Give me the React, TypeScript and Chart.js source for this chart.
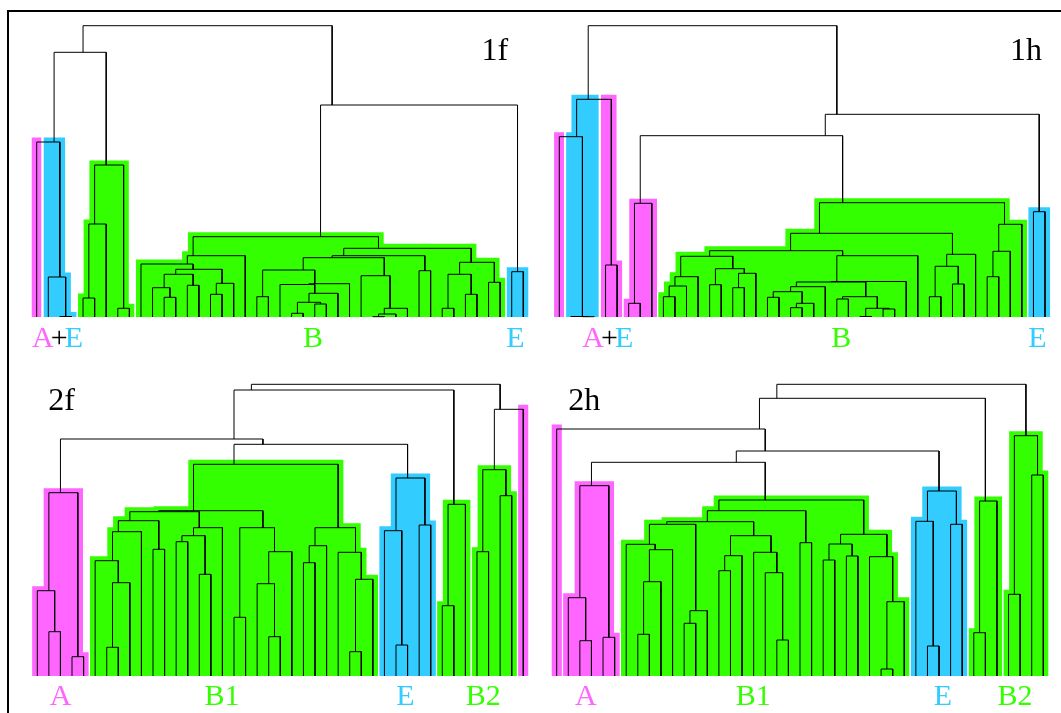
import React, { useEffect, useRef } from "react";
import { Chart, registerables } from "chart.js";

Chart.register(...registerables);

type Tree = string | [number, Tree, Tree];

// ---------- Panel 1f (merge heights; leaves are group codes) ----------
const tree1fAE: Tree = [175, "A", [40, "E", [0.5, "E", "E"]]];
const tree1fG: Tree = [152, [93, [19, "B", "B"], "B"], [8.7, "B", "B"]];
const tree1fB: Tree = [80.3,
  [61.3,
    [53, "B", [47.7,
      [42.7, [29.3, "B", [19.7, "B", "B"]], [31.7, "B", "B"]],
      [33.7, [22.7, "B", "B"], "B"]]],
    "B"],
  [68.7,
    [61.3,
      [59.3,
        [47, [20.3, "B", "B"], [33.3, [32.5, "B", [23.7, [14.7, [3.7, "B", "B"], [13, "B", "B"]], "B"]], "B"]],
        [41.3, "B", [8.7, [3, [0.3, "B", "B"], "B"], "B"]]],
      [46.3, "B", "B"]],
    [54.7, [42.7, [8.7, "B", "B"], [22.7, "B", "B"]], [34.7, "B", "B"]]]];
const tree1fE: Tree = [45.3, "E", "E"];
const tree1f: Tree = [291.3, [264.7, tree1fAE, tree1fG], [212, tree1fB, tree1fE]];
const clusters1f: number[][] = [[0, 3], [4, 8], [9, 40], [41, 42]];

// ---------- Panel 1h ----------
const tree1hAE: Tree = [217.7, [180.3, "A", [0.5, "E", [0.3, "E", "E"]]], [52, "A", "A"]];
const tree1hA: Tree = [113.7, [13.7, "A", "A"], "A"];
const tree1hB: Tree = [114.3,
  [83.7,
    [66.3,
      [60.7,
        [40.3, [31, [20.3, "B", "B"], "B"], "B"],
        [48.3, [32.3, "B", "B"], [43.7, [29.3, "B", "B"], "B"]]],
      [61.3,
        [35.5,
          [35,
            [30.3, [25.3, [19.7, "B", "B"], [13.7, [9.3, "B", "B"], "B"]], "B"],
            [20.3, [18, "B", "B"], [8.7, [0.5, "B", "B"], [8, "B", "B"]]]],
          "B"],
        "B"]],
    [62.7, [50.7, [20.3, "B", "B"], [33, "B", "B"]], "B"]],
  [92.7, [65.7, [40.3, "B", "B"], "B"], "B"]];
const tree1hE: Tree = [105.3, "E", "E"];
const tree1h: Tree = [291.3, tree1hAE, [202.7, [181.3, tree1hA, tree1hB], tree1hE]];
const clusters1h: number[][] = [[0, 5], [6, 8], [9, 40], [41, 42]];

// ---------- Panel 2f ----------
const tree2fA: Tree = [183.3, [85.3, "A", [44.3, "A", "A"]], [19.3, "A", "A"]];
const tree2fB1: Tree = [211.7,
  [165.3,
    [164.3,
      [155.3, [144.3, [115.3, "B", [93.3, [28.7, "B", "B"], "B"]], "B"], [126.7, "B", "B"]],
      [148.3, [140.3, [134.3, "B", "B"], [101.7, "B", "B"]], "B"]],
    [148.3, [58.7, "B", "B"], [124.3, [92.3, "B", [39.3, "B", "B"]], "B"]]],
  [148.3, [130.3, [113.3, "B", "B"], "B"], [123.7, "B", [96.7, [24.3, "B", "B"], "B"]]]];
const tree2fE: Tree = [198, [145.3, "E", [31, "E", "E"]], [151, "E", "E"]];
const tree2fB2a: Tree = [171.7, [70.3, "B2", "B2"], "B2"];
const tree2fB2b: Tree = [206.3, [124.3, "B2", "B2"], [180.3, "B2", "B2"]];
const tree2f: Tree = [291.7,
  [286, [237, tree2fA, [231.7, tree2fB1, tree2fE]], tree2fB2a],
  [266.7, tree2fB2b, "A"]];
const clusters2f: number[][] = [[0, 4], [5, 29], [30, 34], [35, 37], [38, 41], [42, 42]];

// ---------- Panel 2h ----------
const tree2hA: Tree = [190.3, [78.3, "A", [35.3, "A", "A"]], [38.7, "A", "A"]];
const tree2hB1: Tree = [176,
  [165.3,
    [154.3,
      [151.7,
        [131.7, "B", [126.3, [94.3, [41.7, "B", "B"], "B"], "B"]],
        [65.3, [52.7, "B", "B"], "B"]],
      [140.3,
        [120.3, [105.3, "B", "B"], "B"],
        [123.7, "B", [103.3, "B", [36, "B", "B"]]]]],
    [133.3, "B", "B"]],
  [141.7,
    [132, [116, "B", "B"], [120, "B", "B"]],
    [119.3, "B", [74.3, [7, "B", "B"], "B"]]]];
const tree2hE: Tree = [185, [154.7, "E", [30, "E", "E"]], [151.7, "E", "E"]];
const tree2hB2a: Tree = [175, [43.3, "B2", "B2"], "B2"];
const tree2hB2b: Tree = [240.3, [81.7, "B2", "B2"], [201, "B2", "B2"]];
const tree2h: Tree = [291.7,
  [277.7, [247, "A", [225, [213.7, tree2hA, tree2hB1], tree2hE]], tree2hB2a],
  tree2hB2b];
const clusters2h: number[][] = [[0, 0], [1, 5], [6, 30], [31, 35], [36, 38], [39, 42]];

// ---------- styles ----------
const PINK = "#ff66ff";
const BLUE = "#33ccff";
const GREEN = "#33ff00";
const FILL: Record<string, string> = { A: PINK, E: BLUE, B: GREEN, B2: GREEN };
const PAD_X = 0.45;
const PAD_Y = 4.5;
const GAP = 0.17;

interface Box { left: number; top: number; width: number; height: number }
interface PanelSpec { tree: Tree; clusters: number[][]; leaf0: number; step: number; base: number; box: Box }

const panels: PanelSpec[] = [
  { tree: tree1f, clusters: clusters1f, leaf0: 36.7, step: 11.586, base: 317, box: { left: 12, top: 14, width: 526, height: 310 } },
  { tree: tree1h, clusters: clusters1h, leaf0: 559.3, step: 11.564, base: 317, box: { left: 540, top: 14, width: 520, height: 310 } },
  { tree: tree2f, clusters: clusters2f, leaf0: 37.3, step: 11.571, base: 676, box: { left: 12, top: 372, width: 526, height: 312 } },
  { tree: tree2h, clusters: clusters2h, leaf0: 556.7, step: 11.586, base: 676, box: { left: 540, top: 372, width: 520, height: 312 } },
];

interface Part { t: string; c: string }
interface Label { parts: Part[]; x: number; baseline: number; size: number; anchor: "center" | "left" }
const labels: Label[] = [
  { parts: [{ t: "A", c: PINK }, { t: "+", c: "#000" }, { t: "E", c: BLUE }], x: 56, baseline: 346.7, size: 30, anchor: "center" },
  { parts: [{ t: "B", c: GREEN }], x: 313, baseline: 346.7, size: 30, anchor: "center" },
  { parts: [{ t: "E", c: BLUE }], x: 515.5, baseline: 346.7, size: 30, anchor: "center" },
  { parts: [{ t: "1f", c: "#000" }], x: 481.5, baseline: 60, size: 32, anchor: "left" },
  { parts: [{ t: "A", c: PINK }, { t: "+", c: "#000" }, { t: "E", c: BLUE }], x: 606.3, baseline: 346.7, size: 30, anchor: "center" },
  { parts: [{ t: "B", c: GREEN }], x: 841.3, baseline: 346.7, size: 30, anchor: "center" },
  { parts: [{ t: "E", c: BLUE }], x: 1037.3, baseline: 346.7, size: 30, anchor: "center" },
  { parts: [{ t: "1h", c: "#000" }], x: 1010, baseline: 60, size: 32, anchor: "left" },
  { parts: [{ t: "2f", c: "#000" }], x: 48.3, baseline: 410, size: 32, anchor: "left" },
  { parts: [{ t: "A", c: PINK }], x: 60.5, baseline: 705, size: 30, anchor: "center" },
  { parts: [{ t: "B1", c: GREEN }], x: 222, baseline: 705, size: 30, anchor: "center" },
  { parts: [{ t: "E", c: BLUE }], x: 405.5, baseline: 705, size: 30, anchor: "center" },
  { parts: [{ t: "B2", c: GREEN }], x: 483.3, baseline: 705, size: 30, anchor: "center" },
  { parts: [{ t: "2h", c: "#000" }], x: 568.3, baseline: 410, size: 32, anchor: "left" },
  { parts: [{ t: "A", c: PINK }], x: 585.8, baseline: 705, size: 30, anchor: "center" },
  { parts: [{ t: "B1", c: GREEN }], x: 753.3, baseline: 705, size: 30, anchor: "center" },
  { parts: [{ t: "E", c: BLUE }], x: 942.8, baseline: 705, size: 30, anchor: "center" },
  { parts: [{ t: "B2", c: GREEN }], x: 1015, baseline: 705, size: 30, anchor: "center" },
];

type Pt = { x: number; y: number | null };
interface Node { x: number; h: number; lo: number; hi: number; sum: number; n: number; parentH: number }

function buildDatasets(tree: Tree, clusters: number[][]) {
  const groups: string[] = [];
  const leaves: Node[] = [];
  const nodes: { node: Node; a: Node; b: Node }[] = [];
  const walk = (t: Tree): Node => {
    if (typeof t === "string") {
      const i = groups.length;
      groups.push(t);
      const nd: Node = { x: i, h: 0, lo: i, hi: i, sum: i, n: 1, parentH: 0 };
      leaves.push(nd);
      return nd;
    }
    const a = walk(t[1]);
    const b = walk(t[2]);
    const nd: Node = { x: (a.sum + b.sum) / (a.n + b.n), h: t[0], lo: a.lo, hi: b.hi, sum: a.sum + b.sum, n: a.n + b.n, parentH: 0 };
    a.parentH = t[0];
    b.parentH = t[0];
    nodes.push({ node: nd, a, b });
    return nd;
  };
  walk(tree);

  const links: Pt[] = [];
  for (const { node, a, b } of nodes) {
    links.push({ x: a.x, y: a.h }, { x: a.x, y: node.h }, { x: b.x, y: node.h }, { x: b.x, y: b.h }, { x: b.x, y: null });
  }

  const fills: { color: string; pts: Pt[] }[] = [];
  for (const [lo, hi] of clusters) {
    const rects: [number, number, number][] = [];
    if (lo === hi) rects.push([lo - PAD_X, lo + PAD_X, leaves[lo].parentH + PAD_Y]);
    else for (const { node, a, b } of nodes) {
      if (node.lo >= lo && node.hi <= hi) rects.push([Math.min(a.x, b.x) - PAD_X, Math.max(a.x, b.x) + PAD_X, node.h + PAD_Y]);
    }
    const gaps: [number, number][] = [];
    const cuts: number[] = [];
    for (let i = lo; i < hi; i++) {
      if (FILL[groups[i]] !== FILL[groups[i + 1]]) {
        gaps.push([i + 0.5 - GAP / 2, i + 0.5 + GAP / 2]);
        cuts.push(i + 0.5 - GAP / 2, i + 0.5 + GAP / 2);
      }
    }
    const xs = Array.from(new Set([...rects.flatMap((r) => [r[0], r[1]]), ...cuts])).sort((p, q) => p - q);
    let run: { color: string; pts: Pt[] } | null = null;
    const flush = () => {
      if (run) {
        const last = run.pts[run.pts.length - 1];
        run.pts.push({ x: last.x, y: 0 });
        fills.push(run);
        run = null;
      }
    };
    for (let k = 0; k < xs.length - 1; k++) {
      const p = xs[k], q = xs[k + 1], m = (p + q) / 2;
      let h = 0;
      if (!gaps.some((g) => m > g[0] && m < g[1])) {
        for (const r of rects) if (m > r[0] && m < r[1]) h = Math.max(h, r[2]);
      }
      const li = Math.min(hi, Math.max(lo, Math.round(m)));
      const color = FILL[groups[li]];
      if (h <= 0) { flush(); continue; }
      if (run && (run as any).color !== color) flush();
      if (!run) run = { color, pts: [{ x: p, y: 0 }] };
      (run as any).pts.push({ x: p, y: h }, { x: q, y: h });
    }
    flush();
  }
  return { links, fills };
}

function Panel({ spec }: { spec: PanelSpec }) {
  const ref = useRef<HTMLCanvasElement>(null);
  const b = spec.box;
  useEffect(() => {
    if (!ref.current) return;
    const { links, fills } = buildDatasets(spec.tree, spec.clusters);
    const datasets: any[] = [
      {
        data: links, borderColor: "#000", borderWidth: 1, pointRadius: 0, fill: false,
        spanGaps: false, tension: 0, order: 0,
      },
      ...fills.map((f) => ({
        data: f.pts, borderColor: "rgba(0,0,0,0)", borderWidth: 1, backgroundColor: f.color,
        pointRadius: 0, fill: "origin", tension: 0, order: 1,
      })),
    ];
    const chart = new Chart(ref.current, {
      type: "line",
      data: { datasets },
      options: {
        animation: false,
        responsive: false,
        maintainAspectRatio: false,
        events: [],
        layout: { padding: 0 },
        plugins: { legend: { display: false }, tooltip: { enabled: false }, title: { display: false } },
        scales: {
          x: { type: "linear", display: false, min: (b.left - spec.leaf0) / spec.step, max: (b.left + b.width - spec.leaf0) / spec.step },
          y: { type: "linear", display: false, min: spec.base - (b.top + b.height), max: spec.base - b.top },
        },
      },
    });
    return () => chart.destroy();
  }, []);
  return (
    <canvas
      ref={ref}
      width={b.width}
      height={b.height}
      style={{ position: "absolute", left: b.left, top: b.top, width: b.width, height: b.height }}
    />
  );
}

export default function App() {
  return (
    <div style={{ position: "fixed", left: 0, top: 0, width: 1061, height: 713, overflow: "hidden", background: "#fff" }}>
      <div style={{ position: "absolute", left: 7, top: 10, width: 1100, height: 800, border: "2px solid #000", boxSizing: "border-box" }} />
      {panels.map((p, i) => <Panel key={i} spec={p} />)}
      {labels.map((l, i) => (
        <div
          key={"l" + i}
          style={{
            position: "absolute",
            left: l.x,
            top: l.baseline - 0.8375 * l.size,
            transform: l.anchor === "center" ? "translateX(-50%)" : undefined,
            fontFamily: "'Liberation Serif', 'Times New Roman', serif",
            fontSize: l.size,
            lineHeight: 1,
            whiteSpace: "nowrap",
            letterSpacing: l.parts.length > 1 ? -3 : 0,
          }}
        >
          {l.parts.map((p, j) => <span key={j} style={{ color: p.c }}>{p.t}</span>)}
        </div>
      ))}
    </div>
  );
}
